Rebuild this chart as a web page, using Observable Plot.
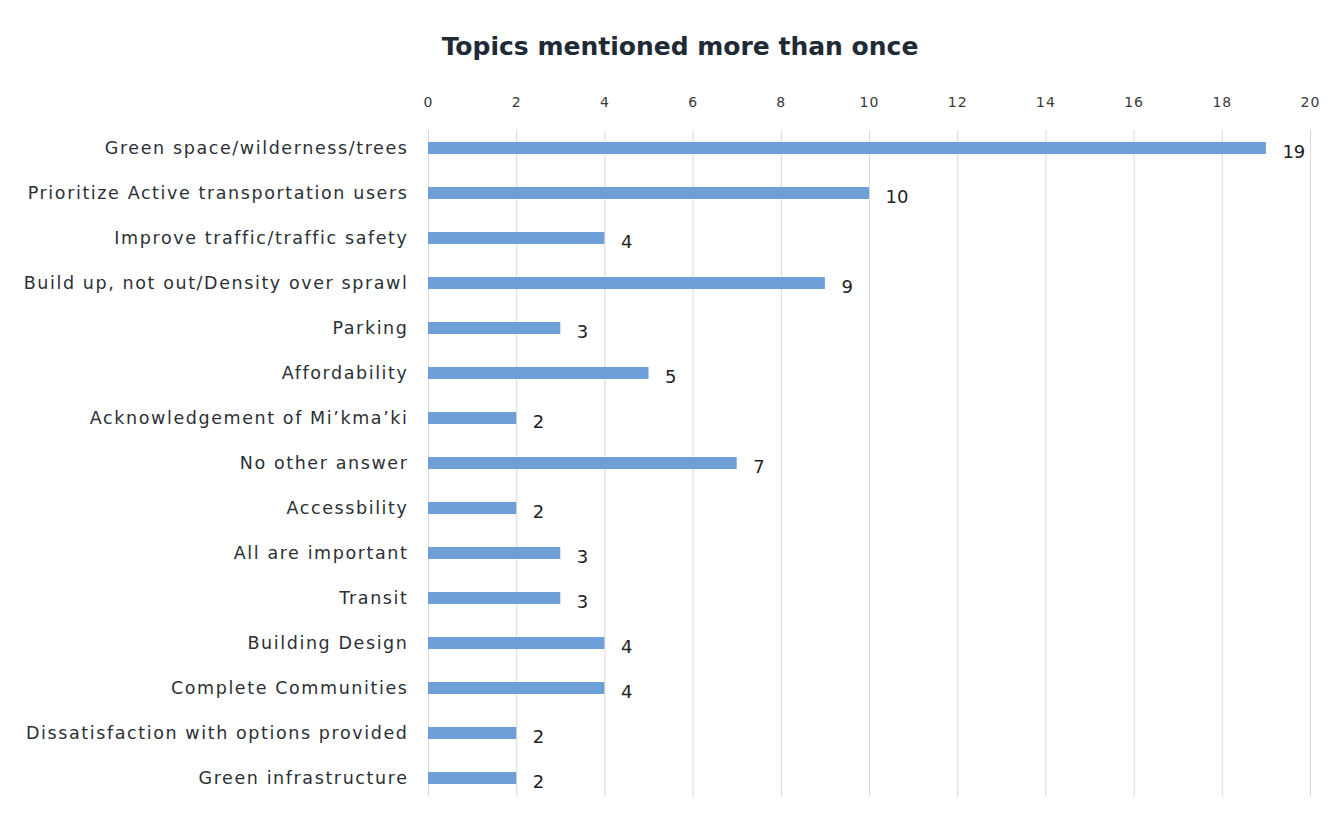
<!DOCTYPE html>
<html>
<head>
<meta charset="utf-8">
<script src="https://cdn.jsdelivr.net/npm/d3@7"></script>
<script src="https://cdn.jsdelivr.net/npm/@observablehq/plot@0.6"></script>
<style>
  body { margin: 0; background: #fff; font-family: "DejaVu Sans", sans-serif; }
  #title { height: 62px; box-sizing: border-box; padding-top: 32px; line-height: 30px; text-align: center;
           font-size: 25px; font-weight: 700; color: #1e2a36; padding-left: 24px; }
  #chart svg g[aria-label="y-axis tick label"] text { letter-spacing: 1.6px; }
  #chart svg g[aria-label="x-axis tick label"] text { letter-spacing: 1px; }
</style>
</head>
<body>
<div id="title">Topics mentioned more than once</div>
<div id="chart"></div>
<script>
const categories = [
  "Green space/wilderness/trees",
  "Prioritize Active transportation users",
  "Improve traffic/traffic safety",
  "Build up, not out/Density over sprawl",
  "Parking",
  "Affordability",
  "Acknowledgement of Mi’kma’ki",
  "No other answer",
  "Accessbility",
  "All are important",
  "Transit",
  "Building Design",
  "Complete Communities",
  "Dissatisfaction with options provided",
  "Green infrastructure"
];
const counts = [19, 10, 4, 9, 3, 5, 2, 7, 2, 3, 3, 4, 4, 2, 2];
const xTicks = [0, 2, 4, 6, 8, 10, 12, 14, 16, 18, 20];

const data = categories.map((c, i) => ({topic: c, count: counts[i]}));

const chart = Plot.plot({
  width: 1336,
  height: 760,
  marginLeft: 428,
  marginRight: 26,
  marginTop: 68,
  marginBottom: 25.5,
  style: { fontFamily: "DejaVu Sans, sans-serif", background: "#fff" },
  x: { domain: [0, 20], ticks: xTicks, axis: null },
  y: { domain: categories, paddingInner: 0.73, paddingOuter: 0.27, axis: null },
  marks: [
    Plot.gridX(xTicks, { stroke: "#d9d9d9", strokeOpacity: 1, strokeWidth: 1 }),
    Plot.axisX({ anchor: "top", ticks: xTicks, tickSize: 0, tickPadding: 24, fontSize: 14, color: "#3a3a3a", label: null }),
    Plot.barX(data, { x: "count", y: "topic", fill: "#6f9fd9" }),
    Plot.axisY({ anchor: "left", tickSize: 0, tickPadding: 20, fontSize: 17.5, color: "#2b3036", label: null }),
    Plot.text(data, { x: "count", y: "topic", text: d => String(d.count), textAnchor: "start", dx: 16, dy: 4, fontSize: 18, fill: "#222" })
  ]
});
document.getElementById("chart").appendChild(chart);
</script>
</body>
</html>
